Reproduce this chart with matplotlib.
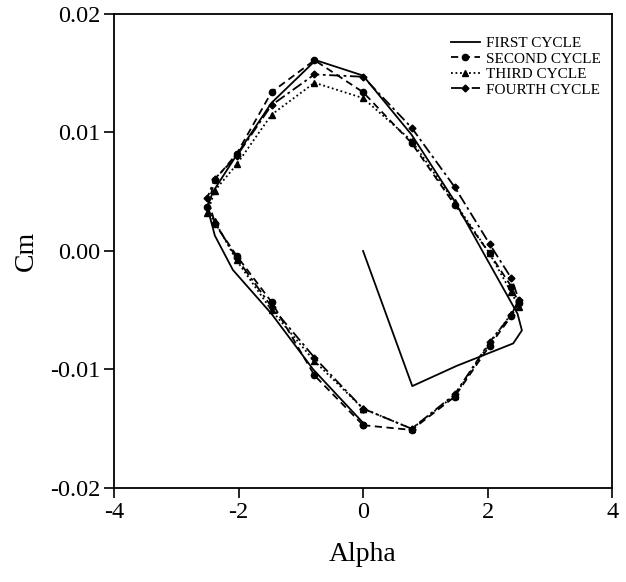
import matplotlib
matplotlib.use('Agg')
import matplotlib.pyplot as plt

plt.rcParams['font.family'] = ['Liberation Serif', 'DejaVu Serif']

# Pitch angle samples for one full cycle (deg)
alpha_cycle = [0, 0.78, 1.47, 2.03, 2.38, 2.5, 2.38, 2.03, 1.47, 0.78, 0,
               -0.78, -1.47, -2.03, -2.38, -2.5, -2.38, -2.03, -1.47, -0.78, 0]

# First cycle starts from rest, drawn without markers
alpha_first = [0, 0.79, 1.5, 2.41, 2.55, 2.48, 2.0, 1.47, 0.78, 0, -0.76,
               -1.47, -2.03, -2.41, -2.5, -2.38, -2.09, -1.47, -0.8, 0]
cm_first = [0, -0.0114, -0.0097, -0.0078, -0.0067, -0.0053, -0.0008, 0.0042,
            0.0098, 0.0148, 0.0161, 0.0125, 0.0081, 0.0050, 0.0037, 0.0013,
            -0.0016, -0.0053, -0.0100, -0.0145]

cm_second = [-0.0147, -0.0151, -0.0123, -0.0080, -0.0055, -0.0044, -0.0030,
             -0.0002, 0.0039, 0.0091, 0.0134, 0.0161, 0.0134, 0.0082, 0.0060,
             0.0037, 0.0023, -0.0004, -0.0043, -0.0105, -0.0147]
cm_third = [-0.0133, -0.0150, -0.0122, -0.0078, -0.0053, -0.0047, -0.0035,
            -0.0002, 0.0041, 0.0093, 0.0129, 0.0142, 0.0115, 0.0073, 0.0051,
            0.0032, 0.0025, -0.0008, -0.0050, -0.0093, -0.0133]
cm_fourth = [-0.0133, -0.0150, -0.0121, -0.0077, -0.0054, -0.0041, -0.0023,
             0.0006, 0.0054, 0.0104, 0.0147, 0.0149, 0.0123, 0.0080, 0.0061,
             0.0045, 0.0024, -0.0006, -0.0047, -0.0090, -0.0133]

xticks = [-4, -2, 0, 2, 4]
yticks = [-0.02, -0.01, 0.00, 0.01, 0.02]

fig = plt.figure(figsize=(6.26, 5.82), dpi=100)
ax = fig.add_axes([0.182, 0.1615, 0.796, 0.8145])

ax.plot(alpha_first, cm_first, color='black', lw=1.3, ls='-', label='FIRST CYCLE')
ax.plot(alpha_cycle, cm_second, color='black', lw=1.3, ls=(0, (4, 2.5)),
        marker='o', ms=4.5, label='SECOND CYCLE')
ax.plot(alpha_cycle, cm_third, color='black', lw=1.3, ls=(0, (1, 1.5)),
        marker='^', ms=5, label='THIRD CYCLE')
ax.plot(alpha_cycle, cm_fourth, color='black', lw=1.3, ls=(0, (6, 2, 1.5, 2)),
        marker='D', ms=3.5, label='FOURTH CYCLE')

ax.set_xlim(-4, 4)
ax.set_ylim(-0.02, 0.02)
ax.set_xticks(xticks)
ax.set_yticks(yticks)
ax.set_xticklabels([f'{t:g}' for t in xticks])
ax.set_yticklabels([f'{t:.2f}' for t in yticks])
ax.tick_params(direction='out', length=7, width=1.2, labelsize=17.5, pad=3,
               top=False, right=False)
for s in ax.spines.values():
    s.set_linewidth(1.3)

ax.set_xlabel('Alpha', fontsize=20, labelpad=14)
ax.set_ylabel('Cm', fontsize=20, labelpad=8)

leg = ax.legend(loc='upper right', bbox_to_anchor=(0.995, 0.972), frameon=False,
                fontsize=11, handlelength=1.9, handletextpad=0.4,
                labelspacing=0.12, borderaxespad=0.2)

fig.savefig('out.png', dpi=100)
